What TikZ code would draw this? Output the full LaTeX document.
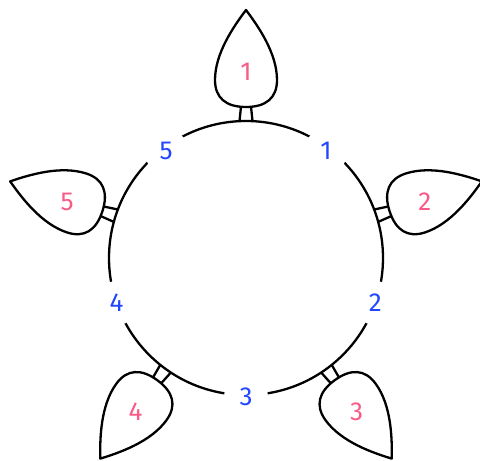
\documentclass[tikz,border=0pt]{standalone}
\usepackage{fontspec}
\setmainfont{Fira Sans}
\usetikzlibrary{calc}
\definecolor{petalpink}{RGB}{250,90,135}
\definecolor{gapblue}{RGB}{35,70,255}
\tikzset{
  wire/.style={black, line width=2.3pt, line join=round},
  bulb/.pic={
    % stem from the ring to the bulb, then the bulb itself
    \draw[wire] (137,-6.5) -- (151.5,-5) (137,6.5) -- (151.5,5);
    \draw[wire, fill=white] (151,0) .. controls (151,20) and (160,31) .. (178,31)
      .. controls (205,31) and (232,12) .. (248,0)
      .. controls (232,-12) and (205,-31) .. (178,-31)
      .. controls (160,-31) and (151,-20) .. (151,0) -- cycle;
  },
  bulbnum/.style={text=petalpink, font=\fontsize{26}{26}\selectfont},
  ringnum/.style={text=gapblue, font=\fontsize{26}{26}\selectfont,
    circle, fill=white, minimum size=44pt, inner sep=0pt}
}
\begin{document}
\begin{tikzpicture}[x=1pt, y=1pt]
    \useasboundingbox (0,0) rectangle (480,461);
    \coordinate (O) at (246,203);

    % Ring
    \draw[wire] (O) circle (137);

    % Bulbs around the ring, numbered inside
    \foreach \n/\a in {1/90, 2/18, 3/-54, 4/-126, 5/162} {
        \pic[rotate=\a] at (O) {bulb};
        \node[bulbnum] (b\n) at ([yshift=-2pt]$(O)+(\a:188)$) {\n};
    }

    % Numbers set into the ring between the bulbs
    \foreach \n/\a in {1/54, 2/-18, 3/-90, 4/-162, 5/126}
        \node[ringnum] (r\n) at ([yshift=-3pt]$(O)+(\a:136)$) {\n};
\end{tikzpicture}
\end{document}
